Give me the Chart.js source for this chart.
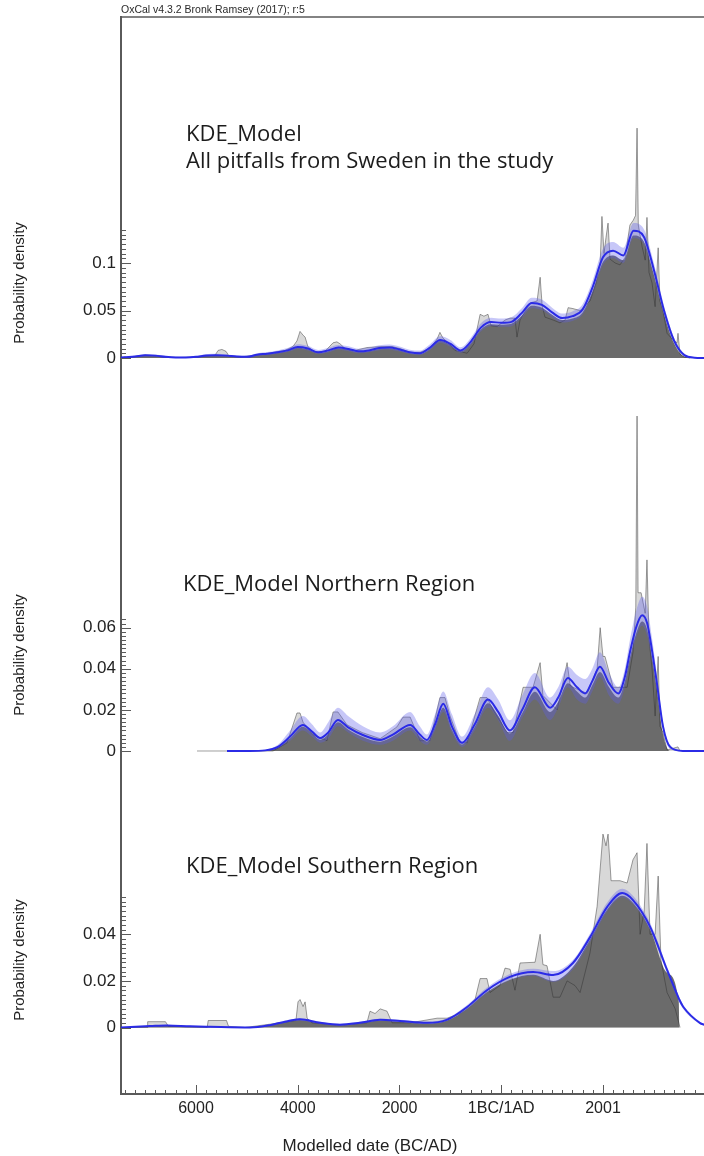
<!DOCTYPE html>
<html>
<head>
<meta charset="utf-8">
<script src="https://cdn.jsdelivr.net/npm/chart.js@4.4.0/dist/chart.umd.min.js"></script>
<style>
  html, body { margin: 0; padding: 0; background: #fff; }
  canvas { display: block; }
</style>
</head>
<body>
<canvas id="kdePlot" width="704" height="1156"></canvas>
<script>
// years: negative = BC, positive = AD
const xMajor = [-6000, -4000, -2000, 0, 2001];
const xMajorLabels = ['6000', '4000', '2000', '1BC/1AD', '2001'];

const allTicks = [0, 0.05, 0.1];
const northTicks = [0, 0.02, 0.04, 0.06];
const southTicks = [0, 0.02, 0.04];

// --- all pitfalls ---
const allYears = [
  -7475, -7400, -7200, -7000, -6800, -6600, -6400, -6200, -6000, -5800,
  -5600, -5400, -5200, -5000, -4800, -4600, -4400, -4200, -4000, -3800,
  -3600, -3400, -3200, -3000, -2800, -2600, -2400, -2200, -2000, -1800,
  -1600, -1400, -1200, -1000, -800, -600, -400, -200, 0, 200,
  400, 600, 800, 1000, 1200, 1400, 1600, 1800, 2000, 2200,
  2400, 2600, 2800, 3000, 3200, 3400, 3600, 3800, 3990];
const allMean = [
  0.0005, 0.0008, 0.0015, 0.0028, 0.0025, 0.0012, 0.0006, 0.0006, 0.0012, 0.0027,
  0.003, 0.0025, 0.0015, 0.0012, 0.0035, 0.0045, 0.006, 0.008, 0.0115, 0.010,
  0.006, 0.008, 0.011, 0.0095, 0.007, 0.008, 0.0105, 0.011, 0.009, 0.006,
  0.005, 0.011, 0.019, 0.015, 0.008, 0.017, 0.032, 0.038, 0.037, 0.038,
  0.047, 0.058, 0.056, 0.048, 0.042, 0.044, 0.051, 0.075, 0.106, 0.113,
  0.108, 0.134, 0.128, 0.093, 0.050, 0.018, 0.003, 0.0003, 0];
const allUpper = [
  0.001, 0.0015, 0.0025, 0.004, 0.0038, 0.0022, 0.0014, 0.0014, 0.0022, 0.004,
  0.0045, 0.004, 0.0027, 0.0024, 0.005, 0.0063, 0.008, 0.0105, 0.0145, 0.0128,
  0.0085, 0.0108, 0.0138, 0.0125, 0.0098, 0.011, 0.0135, 0.0142, 0.0122, 0.0088,
  0.0078, 0.0145, 0.0228, 0.019, 0.0112, 0.021, 0.0365, 0.0425, 0.0415, 0.0428,
  0.052, 0.0635, 0.0615, 0.053, 0.0468, 0.049, 0.0565, 0.082, 0.115, 0.122,
  0.116, 0.142, 0.136, 0.1, 0.055, 0.021, 0.0045, 0.0008, 0];
const allLower = [
  0, 0.0003, 0.0008, 0.0018, 0.0016, 0.0006, 0.0002, 0.0002, 0.0006, 0.0017,
  0.0019, 0.0015, 0.0008, 0.0005, 0.0023, 0.0032, 0.0045, 0.0062, 0.0092, 0.0078,
  0.0042, 0.0058, 0.0086, 0.0072, 0.005, 0.006, 0.0082, 0.0088, 0.0068, 0.0042,
  0.0032, 0.0082, 0.0158, 0.0118, 0.0055, 0.0135, 0.028, 0.0338, 0.0328, 0.0335,
  0.042, 0.0525, 0.0505, 0.043, 0.0375, 0.039, 0.0458, 0.068, 0.098, 0.105,
  0.1, 0.126, 0.12, 0.086, 0.045, 0.015, 0.0018, 0, 0];
const allModel = [
  0.0004, 0.0007, 0.0013, 0.0025, 0.0022, 0.001, 0.0004, 0.0004, 0.001, 0.0024,
  0.0026, 0.0021, 0.0012, 0.001, 0.003, 0.004, 0.0055, 0.0074, 0.0108, 0.0092,
  0.0052, 0.0072, 0.0102, 0.0086, 0.0062, 0.0072, 0.0096, 0.0102, 0.0082, 0.0052,
  0.0042, 0.0098, 0.0178, 0.0138, 0.007, 0.0155, 0.030, 0.0355, 0.035, 0.036,
  0.0445, 0.055, 0.053, 0.0455, 0.040, 0.0415, 0.048, 0.071, 0.101, 0.108,
  0.103, 0.129, 0.123, 0.088, 0.046, 0.015, 0.0015, 0, 0];
const allRawYears = [
  -7475, -7200, -7000, -6805, -6610, -6315, -6000, -5825, -5625, -5565,
  -5490, -5410, -5350, -5135, -4840, -4545, -4250, -4095, -4015, -3955,
  -3895, -3855, -3800, -3660, -3465, -3305, -3230, -3170, -3070, -2875,
  -2640, -2380, -2145, -1990, -1790, -1595, -1400, -1260, -1205, -1145,
  -1065, -910, -670, -535, -415, -340, -260, -200, -80, 75,
  175, 270, 310, 370, 565, 705, 765, 805, 860, 1020,
  1155, 1255, 1315, 1410, 1550, 1745, 1865, 1945, 1980, 2020,
  2060, 2100, 2140, 2240, 2335, 2435, 2530, 2595, 2640, 2670,
  2695, 2770, 2830, 2865, 2905, 2965, 3025, 3085, 3120, 3180,
  3260, 3360, 3455, 3475, 3515, 3595, 3710];
const allRaw = [
  0.0008, 0.0015, 0.003, 0.0025, 0.001, 0.0005, 0.001, 0.002, 0.003, 0.008,
  0.009, 0.007, 0.002, 0.001, 0.003, 0.005, 0.008, 0.012, 0.018, 0.028,
  0.024, 0.022, 0.012, 0.006, 0.007, 0.016, 0.017, 0.015, 0.010, 0.008,
  0.011, 0.012, 0.012, 0.010, 0.006, 0.006, 0.010, 0.020, 0.027, 0.021,
  0.017, 0.008, 0.005, 0.015, 0.046, 0.044, 0.046, 0.034, 0.033, 0.040,
  0.042, 0.042, 0.022, 0.040, 0.058, 0.060, 0.085, 0.055, 0.043, 0.040,
  0.037, 0.040, 0.053, 0.052, 0.050, 0.060, 0.079, 0.100, 0.149, 0.110,
  0.127, 0.142, 0.104, 0.100, 0.098, 0.106, 0.140, 0.145, 0.150, 0.242,
  0.140, 0.117, 0.103, 0.148, 0.090, 0.079, 0.054, 0.116, 0.060, 0.050,
  0.026, 0.020, 0.016, 0.026, 0.004, 0.001, 0];

// --- northern region ---
const northYears = [
  -5390, -4940, -4640, -4390, -4150, -3900, -3720, -3560, -3400, -3210,
  -3010, -2720, -2380, -2130, -1790, -1600, -1460, -1300, -1140, -970,
  -770, -520, -260, -60, 170, 410, 660, 960, 1120, 1310,
  1490, 1650, 1790, 1940, 2120, 2300, 2430, 2530, 2650, 2770,
  2870, 2970, 3060, 3180, 3320, 3570, 3990];
const northMean = [
  0, 0, 0.0003, 0.002, 0.007, 0.0127, 0.0095, 0.0063, 0.009, 0.0151,
  0.0115, 0.0078, 0.0054, 0.008, 0.0127, 0.008, 0.0054, 0.013, 0.023, 0.012,
  0.004, 0.013, 0.025, 0.019, 0.010, 0.020, 0.031, 0.021, 0.026, 0.0355,
  0.031, 0.028, 0.034, 0.041, 0.033, 0.028, 0.036, 0.048, 0.060, 0.066,
  0.062, 0.048, 0.033, 0.012, 0.002, 0, 0];
const northUpper = [
  0, 0, 0.0005, 0.003, 0.010, 0.017, 0.013, 0.009, 0.014, 0.021,
  0.017, 0.012, 0.009, 0.012, 0.019, 0.012, 0.008, 0.018, 0.029, 0.018,
  0.007, 0.018, 0.031, 0.025, 0.015, 0.027, 0.038, 0.026, 0.031, 0.041,
  0.037, 0.035, 0.040, 0.048, 0.038, 0.031, 0.040, 0.054, 0.068, 0.075,
  0.070, 0.054, 0.037, 0.014, 0.003, 0, 0];
const northLower = [
  0, 0, 0, 0.0015, 0.005, 0.010, 0.007, 0.004, 0.006, 0.012,
  0.009, 0.005, 0.003, 0.005, 0.010, 0.005, 0.003, 0.010, 0.019, 0.009,
  0.002, 0.010, 0.021, 0.015, 0.005, 0.016, 0.025, 0.015, 0.021, 0.031,
  0.025, 0.023, 0.029, 0.036, 0.027, 0.023, 0.031, 0.043, 0.055, 0.061,
  0.056, 0.043, 0.029, 0.010, 0.001, 0, 0];
const northModel = [
  0, 0, 0.0002, 0.0017, 0.0062, 0.0118, 0.0088, 0.0055, 0.0082, 0.014,
  0.0105, 0.0068, 0.0045, 0.007, 0.0115, 0.007, 0.0045, 0.0118, 0.021, 0.0105,
  0.0032, 0.0118, 0.0232, 0.0172, 0.0085, 0.0182, 0.0288, 0.019, 0.024, 0.033,
  0.029, 0.026, 0.032, 0.0385, 0.031, 0.026, 0.034, 0.0455, 0.057, 0.063,
  0.059, 0.045, 0.030, 0.008, 0, 0, 0];
const northRawYears = [
  -5980, -4485, -4210, -4015, -3955, -3895, -3700, -3425, -3305, -3210,
  -3030, -2735, -2380, -2050, -1930, -1790, -1595, -1400, -1205, -1105,
  -1005, -810, -670, -415, -280, -160, 115, 235, 430, 625,
  765, 820, 900, 1100, 1295, 1355, 1410, 1690, 1885, 1945,
  2000, 2040, 2200, 2475, 2590, 2645, 2670, 2690, 2750, 2830,
  2865, 2905, 2965, 3025, 3085, 3120, 3180, 3260, 3475, 3515];
const northRaw = [
  0, 0, 0.004, 0.0185, 0.0185, 0.014, 0.008, 0.005, 0.019, 0.019,
  0.0127, 0.009, 0.006, 0.0117, 0.0165, 0.0165, 0.005, 0.005, 0.026, 0.026,
  0.017, 0.004, 0.004, 0.026, 0.026, 0.020, 0.009, 0.009, 0.031, 0.031,
  0.043, 0.027, 0.025, 0.020, 0.043, 0.032, 0.031, 0.028, 0.040, 0.060,
  0.046, 0.046, 0.031, 0.031, 0.048, 0.070, 0.163, 0.077, 0.077, 0.067,
  0.093, 0.055, 0.040, 0.017, 0.046, 0.012, 0.009, 0.0005, 0.002, 0];

// --- southern region ---
const southYears = [
  -7475, -6900, -6570, -6120, -5720, -4940, -4550, -4250, -3960, -3560,
  -3170, -2780, -2380, -1990, -1460, -1060, -670, -280, 170, 630,
  1020, 1410, 1750, 2080, 2380, 2590, 2930, 3260, 3490, 3500,
  3580, 3910, 3990];
const southMean = [
  0, 0.0006, 0.0009, 0.0005, 0.0003, 0, 0.001, 0.0025, 0.0035, 0.002,
  0.0012, 0.002, 0.0033, 0.0028, 0.002, 0.0034, 0.0088, 0.016, 0.0217, 0.0238,
  0.0225, 0.0277, 0.0389, 0.0517, 0.0577, 0.0547, 0.0431, 0.0247, 0.0125, 0.012,
  0.0088, 0.0019, 0.0012];
const southUpper = [
  0.0002, 0.0008, 0.0012, 0.0008, 0.0005, 0.0002, 0.0013, 0.003, 0.004, 0.0025,
  0.0016, 0.0025, 0.0038, 0.0033, 0.0025, 0.004, 0.0097, 0.0172, 0.023, 0.0252,
  0.0242, 0.029, 0.0405, 0.0535, 0.0595, 0.0565, 0.0447, 0.026, 0.0135, 0.013,
  0.0097, 0.0024, 0.0016];
const southLower = [
  0, 0.0004, 0.0006, 0.0003, 0.0001, 0, 0.0007, 0.002, 0.003, 0.0015,
  0.0008, 0.0015, 0.0028, 0.0023, 0.0015, 0.0028, 0.0078, 0.0148, 0.0203, 0.0222,
  0.0195, 0.025, 0.0368, 0.0497, 0.0558, 0.053, 0.0415, 0.0233, 0.0112, 0.0108,
  0.0078, 0.0014, 0.0008];
const southModel = [
  0, 0.0005, 0.0008, 0.0004, 0.0002, 0, 0.0009, 0.0023, 0.0032, 0.0018,
  0.001, 0.0018, 0.003, 0.0025, 0.0018, 0.003, 0.0082, 0.0152, 0.0205, 0.0226,
  0.020, 0.026, 0.038, 0.0505, 0.0565, 0.0535, 0.042, 0.0235, 0.011, 0,
  0, 0, 0];
const southRawYears = [
  -7475, -6960, -6950, -6600, -6540, -5780, -5760, -5400, -5360, -5035,
  -4350, -4035, -3995, -3955, -3895, -3855, -3815, -3720, -3170, -2640,
  -2580, -2480, -2380, -2245, -2145, -1790, -1260, -1065, -810, -515,
  -415, -280, -220, -25, 75, 175, 270, 370, 665, 765,
  820, 900, 1020, 1155, 1295, 1450, 1550, 1745, 1885, 2000,
  2060, 2100, 2160, 2335, 2475, 2590, 2670, 2730, 2810, 2865,
  2925, 3025, 3085, 3140, 3260, 3420, 3515];
const southRaw = [
  0, 0, 0.0025, 0.0025, 0.0005, 0, 0.003, 0.003, 0.0005, 0,
  0.002, 0.003, 0.011, 0.012, 0.009, 0.011, 0.004, 0.002, 0.001, 0.002,
  0.007, 0.006, 0.008, 0.007, 0.002, 0.002, 0.004, 0.004, 0.006, 0.012,
  0.021, 0.021, 0.015, 0.018, 0.0255, 0.025, 0.016, 0.0277, 0.028, 0.040,
  0.027, 0.0265, 0.013, 0.013, 0.020, 0.018, 0.015, 0.032, 0.052, 0.083,
  0.078, 0.083, 0.063, 0.063, 0.062, 0.072, 0.075, 0.040, 0.050, 0.079,
  0.040, 0.040, 0.065, 0.029, 0.015, 0.008, 0];

// text
const header = 'OxCal v4.3.2 Bronk Ramsey (2017); r:5';
const panelTitles = [
  { lines: ['KDE_Model', 'All pitfalls from Sweden in the study'], x: 186, y: 141 },
  { lines: ['KDE_Model Northern Region'], x: 183, y: 591 },
  { lines: ['KDE_Model Southern Region'], x: 186, y: 873 }
];
const yTitle = 'Probability density';
const yTitleCenters = [283, 655, 960];
const xTitle = 'Modelled date (BC/AD)';

const axisColor = '#5a5a5a';
const minorY = {
  y1: { step: 0.005, top: 0.135, majors: allTicks },
  y2: { step: 0.002, top: 0.064, majors: northTicks },
  y3: { step: 0.002, top: 0.056, majors: southTicks }
};

function pts(xs, ys) {
  return xs.map((x, i) => ({ x: x, y: ys[i] }));
}

function panel(axis, years, mean, upper, lower, model, rawYears, raw) {
  const base = { yAxisID: axis, pointRadius: 0, pointHoverRadius: 0 };
  return [
    { ...base, data: pts(rawYears, raw), fill: 'origin', backgroundColor: '#d8d8d8',
      borderWidth: 0, borderColor: 'transparent', order: 50 },
    { ...base, data: pts(years, model), fill: 'origin', backgroundColor: '#6b6b6b',
      borderWidth: 0, borderColor: 'transparent', cubicInterpolationMode: 'monotone', order: 40 },
    { ...base, data: pts(rawYears, raw), fill: false, borderColor: 'rgba(45,45,45,0.45)',
      borderWidth: 1, order: 30 },
    { ...base, data: pts(years, upper), fill: '+1', backgroundColor: 'rgba(95,95,235,0.35)',
      borderWidth: 0, borderColor: 'transparent', cubicInterpolationMode: 'monotone', order: 20 },
    { ...base, data: pts(years, lower), fill: false,
      borderWidth: 0, borderColor: 'transparent', cubicInterpolationMode: 'monotone', order: 21 },
    { ...base, data: pts(years, mean), fill: false, borderColor: '#2b2be6',
      borderWidth: 2, cubicInterpolationMode: 'monotone', order: 10 }
  ];
}

function yAxis(min, max, ticks, weight, stackWeight) {
  return {
    type: 'linear', position: 'left', stack: 'panels', stackWeight: stackWeight, weight: weight,
    min: min, max: max,
    grid: { display: false, drawTicks: false },
    border: { color: axisColor, width: 2 },
    afterBuildTicks: s => { s.ticks = ticks.map(v => ({ value: v })); },
    afterFit: s => { s.width = 121; },
    ticks: {
      padding: 5, color: '#222',
      font: { family: 'Liberation Sans', size: 17 },
      callback: v => String(v)
    }
  };
}

const decor = {
  id: 'decor',
  afterDraw(chart) {
    const ctx = chart.ctx;
    const area = chart.chartArea;
    ctx.save();
    ctx.strokeStyle = axisColor;
    ctx.lineWidth = 1.5;
    ctx.beginPath();
    ctx.moveTo(area.left, area.top);
    ctx.lineTo(area.right, area.top);
    ctx.stroke();

    // inward tick marks on the y axes
    ctx.lineWidth = 1;
    Object.keys(minorY).forEach(id => {
      const s = chart.scales[id];
      const m = minorY[id];
      for (let i = 0; i * m.step <= m.top + 1e-9; i++) {
        const y = Math.round(s.getPixelForValue(i * m.step)) + 0.5;
        ctx.beginPath();
        ctx.moveTo(area.left, y);
        ctx.lineTo(area.left + 5, y);
        ctx.stroke();
      }
      m.majors.forEach(v => {
        const y = Math.round(s.getPixelForValue(v)) + 0.5;
        ctx.beginPath();
        ctx.moveTo(area.left, y);
        ctx.lineTo(area.left + 10, y);
        ctx.stroke();
      });
    });

    // inward tick marks on the x axis
    const xs = chart.scales.x;
    for (let yr = -7400; yr <= 3800; yr += 200) {
      const x = Math.round(xs.getPixelForValue(yr)) + 0.5;
      ctx.beginPath();
      ctx.moveTo(x, area.bottom);
      ctx.lineTo(x, area.bottom - 4);
      ctx.stroke();
    }
    xMajor.forEach(v => {
      const x = Math.round(xs.getPixelForValue(v)) + 0.5;
      ctx.beginPath();
      ctx.moveTo(x, area.bottom);
      ctx.lineTo(x, area.bottom - 9);
      ctx.stroke();
    });

    // texts
    ctx.fillStyle = '#2a2a2a';
    ctx.textBaseline = 'alphabetic';
    ctx.textAlign = 'left';
    ctx.font = '10.5px "Liberation Sans"';
    ctx.fillText(header, area.left, area.top - 4);

    ctx.fillStyle = '#1c1c1c';
    ctx.font = '22px "Open Sans"';
    panelTitles.forEach(t => {
      t.lines.forEach((line, i) => ctx.fillText(line, t.x, t.y + i * 27));
    });

    ctx.fillStyle = '#222';
    ctx.font = '15px "Liberation Sans"';
    ctx.textAlign = 'center';
    ctx.textBaseline = 'middle';
    yTitleCenters.forEach(cy => {
      ctx.save();
      ctx.translate(20, cy);
      ctx.rotate(-Math.PI / 2);
      ctx.fillText(yTitle, 0, 0);
      ctx.restore();
    });

    ctx.font = '17px "Liberation Sans"';
    ctx.textBaseline = 'alphabetic';
    ctx.fillText(xTitle, 370, 1151);
    ctx.restore();
  }
};

const datasets = []
  .concat(panel('y1', allYears, allMean, allUpper, allLower, allModel, allRawYears, allRaw))
  .concat(panel('y2', northYears, northMean, northUpper, northLower, northModel, northRawYears, northRaw))
  .concat(panel('y3', southYears, southMean, southUpper, southLower, southModel, southRawYears, southRaw));

const kdeChart = new Chart(document.getElementById('kdePlot'), {
  type: 'line',
  data: { datasets: datasets },
  options: {
    responsive: false,
    animation: false,
    events: [],
    layout: { padding: { top: 17, left: 0, right: 0, bottom: 0 } },
    plugins: { legend: { display: false }, tooltip: { enabled: false }, title: { display: false } },
    scales: {
      x: {
        type: 'linear', position: 'bottom', min: -7474, max: 3986,
        grid: { display: false, drawTicks: false },
        border: { color: axisColor, width: 2 },
        afterBuildTicks: s => { s.ticks = xMajor.map(v => ({ value: v })); },
        afterFit: s => { s.height = 62; },
        ticks: {
          autoSkip: false, maxRotation: 0, padding: 5, color: '#222',
          font: { family: 'Liberation Sans', size: 16 },
          callback: v => xMajorLabels[xMajor.indexOf(v)]
        }
      },
      y1: yAxis(-0.02842, 0.35895, allTicks, 3, 368),
      y2: yAxis(-0.01898, 0.1781, northTicks, 2, 405),
      y3: yAxis(-0.02854, 0.10193, southTicks, 1, 304)
    }
  },
  plugins: [decor]
});
</script>
</body>
</html>
